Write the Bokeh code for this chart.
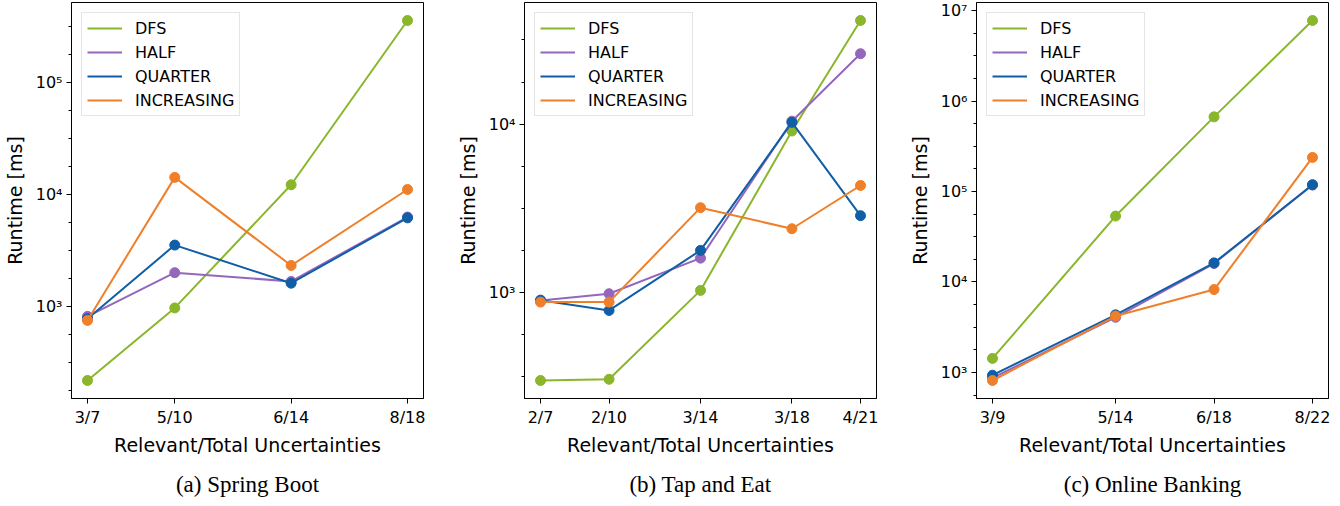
import math
from bokeh.plotting import figure
from bokeh.layouts import row
from bokeh.models import FixedTicker, Range1d, Title, Legend, LegendItem
from bokeh.embed import file_html
from bokeh.resources import INLINE

# ---------------- data ----------------
series_names = ["DFS", "HALF", "QUARTER", "INCREASING"]
series_colors = ["#8ab62c", "#9467bd", "#105fa6", "#f07f2a"]

captions = ["(a) Spring Boot", "(b) Tap and Eat", "(c) Online Banking"]

labels_a = ["3/7", "5/10", "6/14", "8/18"]
total_a = [7, 10, 14, 18]
dfs_a = [220, 975, 12200, 355000]
half_a = [820, 2010, 1680, 6290]
quarter_a = [782, 3540, 1620, 6190]
incr_a = [755, 14200, 2330, 11080]

labels_b = ["2/7", "2/10", "3/14", "3/18", "4/21"]
total_b = [7, 10, 14, 18, 21]
dfs_b = [298, 303, 1024, 9090, 41300]
half_b = [893, 978, 1593, 10400, 26200]
quarter_b = [896, 778, 1771, 10230, 2850]
incr_b = [872, 872, 3180, 2382, 4310]

labels_c = ["3/9", "5/14", "6/18", "8/22"]
total_c = [9, 14, 18, 22]
dfs_c = [1430, 53500, 668000, 7760000]
half_c = [870, 4070, 16000, 118000]
quarter_c = [933, 4330, 16250, 118700]
incr_c = [815, 4200, 8240, 238000]

SUP = str.maketrans("0123456789-", "⁰¹²³⁴⁵⁶⁷⁸⁹⁻")


def make_panel(caption, labels, totals, ys, border_left, border_right):
    allv = [v for s in ys for v in s]
    lo, hi = math.log10(min(allv)), math.log10(max(allv))
    m = 0.05 * (hi - lo)
    ylo, yhi = 10 ** (lo - m), 10 ** (hi + m)
    xm = 0.05 * (max(totals) - min(totals))
    p = figure(
        y_axis_type="log",
        x_range=Range1d(min(totals) - xm, max(totals) + xm),
        y_range=Range1d(ylo, yhi),
        frame_width=352, frame_height=396,
        min_border_left=border_left, min_border_right=border_right,
        min_border_top=2, min_border_bottom=0,
        output_backend="svg", toolbar_location=None,
    )
    p.background_fill_color = "white"
    p.border_fill_color = "white"
    p.outline_line_color = "black"
    p.outline_line_width = 1
    p.xgrid.visible = False
    p.ygrid.visible = False

    # ticks
    majors = [10 ** k for k in range(math.floor(lo - m), math.ceil(hi + m) + 1)
              if ylo <= 10 ** k <= yhi]
    minors = []
    for k in range(math.floor(lo - m) - 1, math.ceil(hi + m) + 1):
        for f in (0.25, 0.5, 0.75):
            v = 10 ** (k + f)
            if ylo <= v <= yhi:
                minors.append(v)
    p.yaxis.ticker = FixedTicker(ticks=majors, minor_ticks=minors)
    p.yaxis.major_label_overrides = {
        m_: "10" + str(int(round(math.log10(m_)))).translate(SUP) for m_ in majors
    }
    p.xaxis.ticker = FixedTicker(ticks=totals, minor_ticks=[])
    p.xaxis.major_label_overrides = {t: l for t, l in zip(totals, labels)}

    for ax in (p.xaxis[0], p.yaxis[0]):
        ax.axis_line_color = "black"
        ax.major_tick_line_color = "black"
        ax.minor_tick_line_color = "black"
        ax.major_tick_in = 0
        ax.major_tick_out = 5
        ax.minor_tick_in = 0
        ax.minor_tick_out = 3
        ax.major_label_text_font = "DejaVu Sans"
        ax.major_label_text_font_size = "16px"
        ax.major_label_text_color = "black"
        ax.axis_label_text_font = "DejaVu Sans"
        ax.axis_label_text_font_size = "19px"
        ax.axis_label_text_font_style = "normal"
        ax.axis_label_text_color = "black"
    p.xaxis.axis_label = "Relevant/Total Uncertainties"
    p.yaxis.axis_label = "Runtime [ms]"
    p.xaxis.major_label_standoff = 4
    p.xaxis.axis_label_standoff = 4
    p.yaxis.major_label_standoff = 4
    p.yaxis.axis_label_standoff = 7

    items = []
    for name, color, vals in zip(series_names, series_colors, ys):
        r = p.line(totals, vals, line_color=color, line_width=2)
        p.scatter(totals, vals, size=10, fill_color=color, line_color=color, marker="circle")
        items.append(LegendItem(label=name, renderers=[r]))

    leg = Legend(items=items, location="top_left")
    leg.label_text_font = "DejaVu Sans"
    leg.label_text_font_size = "16px"
    leg.label_text_color = "black"
    leg.glyph_width = 35
    leg.glyph_height = 20
    leg.label_height = 20
    leg.label_standoff = 13
    leg.spacing = 4
    leg.padding = 5
    leg.margin = 10
    leg.border_line_color = "#cccccc"
    leg.border_line_width = 1
    leg.background_fill_color = "white"
    leg.background_fill_alpha = 0.8
    p.add_layout(leg)

    t = Title(text=caption, align="center", text_font="Liberation Serif",
              text_font_size="23px", text_font_style="normal", text_color="black",
              standoff=22)
    p.add_layout(t, "below")
    return p


pa = make_panel(captions[0], labels_a, total_a, [dfs_a, half_a, quarter_a, incr_a], 65, 30)
pb = make_panel(captions[1], labels_b, total_b, [dfs_b, half_b, quarter_b, incr_b], 67, 29)
pc = make_panel(captions[2], labels_c, total_c, [dfs_c, half_c, quarter_c, incr_c], 66, 8)

layout = row(pa, pb, pc, spacing=0)
open("out.html", "w").write(file_html(layout, INLINE))
